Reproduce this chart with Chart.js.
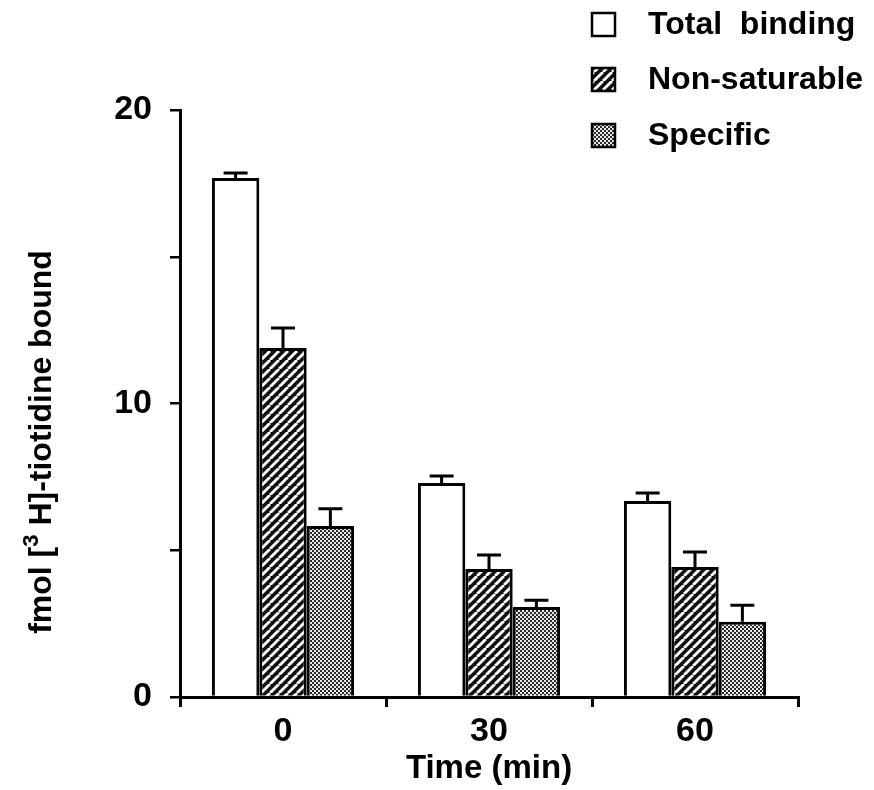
<!DOCTYPE html>
<html>
<head>
<meta charset="utf-8">
<script src="https://cdn.jsdelivr.net/npm/chart.js@4.4.0/dist/chart.umd.min.js"></script>
<style>
  html, body { margin: 0; padding: 0; background: #fff; }
  #wrap { width: 874px; height: 790px; }
</style>
</head>
<body>
<div id="wrap"><canvas id="c" width="874" height="790"></canvas></div>
<script>
// Tiotidine binding over time.
const times = ['0', '30', '60'];
const seriesNames = ['Total  binding', 'Non-saturable', 'Specific'];
const totalBinding = [17.68, 7.29, 6.68];
const totalErr = [0.17, 0.24, 0.27];
const nonSaturable = [11.89, 4.36, 4.43];
const nonSatErr = [0.68, 0.48, 0.51];
const specific = [5.83, 3.07, 2.56];
const specificErr = [0.58, 0.23, 0.57];
const yTicks = [0, 5, 10, 15, 20];
const yLabelled = [0, 10, 20];

const FONT = "'Liberation Sans', Arial, sans-serif";
const ctx = document.getElementById('c').getContext('2d');

function hatchPattern() {
  const s = 9, c = document.createElement('canvas');
  c.width = c.height = s;
  const g = c.getContext('2d');
  g.fillStyle = '#111';
  g.fillRect(0, 0, s, s);
  g.strokeStyle = '#fff';
  g.lineWidth = 2.8;
  for (const o of [-s, 0, s]) {
    g.beginPath();
    g.moveTo(o, s);
    g.lineTo(o + s, 0);
    g.stroke();
  }
  return ctx.createPattern(c, 'repeat');
}

function dotPattern() {
  const c = document.createElement('canvas');
  c.width = c.height = 4;
  const g = c.getContext('2d');
  g.fillStyle = '#2a2a2a';
  g.fillRect(0, 0, 4, 4);
  g.fillStyle = '#e8e8e8';
  g.fillRect(0, 0, 2, 2);
  g.fillRect(2, 2, 2, 2);
  return ctx.createPattern(c, 'repeat');
}

const fills = ['#ffffff', hatchPattern(), dotPattern()];
const errs = [totalErr, nonSatErr, specificErr];

// error bars (upward only, with cap)
const errorBars = {
  id: 'errorBars',
  afterDatasetsDraw(chart) {
    const y = chart.scales.y, c = chart.ctx;
    c.save();
    c.strokeStyle = '#000';
    c.lineWidth = 3;
    chart.data.datasets.forEach((ds, i) => {
      chart.getDatasetMeta(i).data.forEach((bar, j) => {
        const top = y.getPixelForValue(ds.data[j]);
        const end = y.getPixelForValue(ds.data[j] + errs[i][j]);
        c.beginPath();
        c.moveTo(bar.x, top);
        c.lineTo(bar.x, end);
        c.moveTo(bar.x - 12, end);
        c.lineTo(bar.x + 12, end);
        c.stroke();
      });
    });
    c.restore();
  }
};

// legend + axis titles (y title has a superscript)
const decor = {
  id: 'decor',
  afterDraw(chart) {
    const c = chart.ctx, a = chart.chartArea;
    c.save();
    c.fillStyle = '#000';
    c.textBaseline = 'middle';
    c.font = `bold 32px ${FONT}`;
    const rows = [25, 80, 136];
    chart.data.datasets.forEach((ds, i) => {
      c.fillStyle = ds.backgroundColor;
      c.fillRect(592, rows[i] - 12, 23, 23);
      c.strokeStyle = '#000';
      c.lineWidth = 2.5;
      c.strokeRect(592, rows[i] - 12, 23, 23);
      c.fillStyle = '#000';
      c.textAlign = 'left';
      c.fillText(ds.label, 648, rows[i]);
    });

    c.font = `bold 33px ${FONT}`;
    c.textAlign = 'center';
    c.fillText('Time (min)', (a.left + a.right) / 2, 769);

    // rotated y title
    c.translate(42, 442);
    c.rotate(-Math.PI / 2);
    const parts = [
      { t: 'fmol [', f: `bold 32px ${FONT}`, dy: 0 },
      { t: '3', f: `bold 22px ${FONT}`, dy: -10 },
      { t: ' H]-tiotidine bound', f: `bold 32px ${FONT}`, dy: 0 },
    ];
    let w = 0;
    parts.forEach(p => { c.font = p.f; w += c.measureText(p.t).width; });
    let x = -w / 2;
    c.textAlign = 'left';
    parts.forEach(p => {
      c.font = p.f;
      c.fillText(p.t, x, p.dy);
      x += c.measureText(p.t).width;
    });
    c.restore();
  }
};

new Chart(ctx, {
  type: 'bar',
  data: {
    labels: times,
    datasets: [
      { label: seriesNames[0], data: totalBinding, backgroundColor: fills[0] },
      { label: seriesNames[1], data: nonSaturable, backgroundColor: fills[1] },
      { label: seriesNames[2], data: specific, backgroundColor: fills[2] },
    ].map(d => Object.assign(d, { borderColor: '#000', borderWidth: 3, borderSkipped: 'bottom' })),
  },
  options: {
    responsive: false,
    animation: false,
    devicePixelRatio: 1,
    layout: { padding: { left: 0, top: 110, right: 76, bottom: 0 } },
    categoryPercentage: 0.69,
    barPercentage: 1.0,
    plugins: { legend: { display: false }, tooltip: { enabled: false } },
    scales: {
      x: {
        grid: { offset: true, drawOnChartArea: false, tickLength: 10, color: '#000', lineWidth: 3 },
        border: { color: '#000', width: 3 },
        ticks: { color: '#000', font: { family: FONT, size: 34, weight: 'bold' }, padding: 4 },
        afterFit: s => { s.height = 93; },
      },
      y: {
        min: 0, max: 20,
        afterBuildTicks: s => { s.ticks = yTicks.map(v => ({ value: v })); },
        grid: { drawOnChartArea: false, tickLength: 10, color: '#000', lineWidth: 2.5 },
        border: { color: '#000', width: 3 },
        ticks: {
          color: '#000', padding: 18,
          font: { family: FONT, size: 34, weight: 'bold' },
          callback: v => yLabelled.includes(v) ? String(v) : '',
        },
        afterFit: s => { s.width = 180; },
      },
    },
  },
  plugins: [errorBars, decor],
});
</script>
</body>
</html>
